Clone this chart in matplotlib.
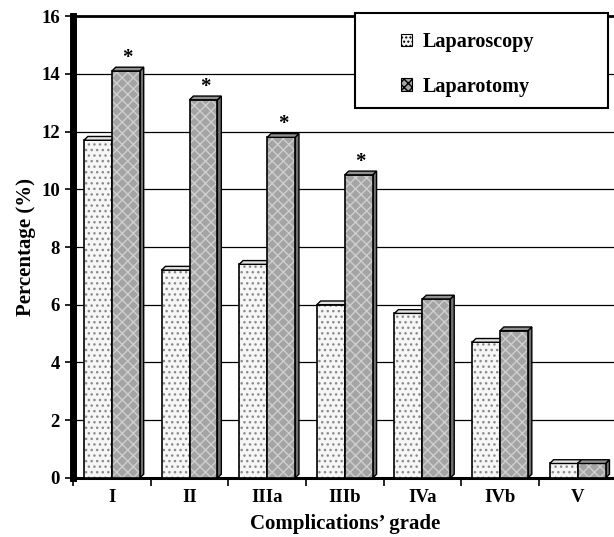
import numpy as np
import matplotlib.pyplot as plt
from matplotlib.patches import Polygon, Patch, Rectangle

# -------------------------
# Data
# -------------------------
grades = ['I', 'II', 'IIIa', 'IIIb', 'IVa', 'IVb', 'V']
laparoscopy = [11.7, 7.2, 7.4, 6.0, 5.7, 4.7, 0.5]
laparotomy = [14.1, 13.1, 11.8, 10.5, 6.2, 5.1, 0.5]
significant = [True, True, True, True, False, False, False]

plt.rcParams['font.family'] = ['Liberation Serif', 'DejaVu Serif']
plt.rcParams['font.weight'] = 'bold'

fig = plt.figure(figsize=(6.14, 5.37), dpi=100)
ax = fig.add_axes([0.119, 0.110, 0.885, 0.860])

w = 0.36       # bar width in category units
dx = 0.05      # 3D depth offsets
dy = 0.13

styles = {
    'lap': dict(face='#f6f6f6', hatch='...', hcol='#8a8a8a', top='#e4e4e4', side='#c8c8c8'),
    'lapt': dict(face='#a4a4a4', hatch='xxx', hcol='#cfcfcf', top='#909090', side='#707070'),
}

def bar3d(x0, h, st, z):
    # hatched fill
    ax.bar(x0, h, w, align='edge', color=st['face'], hatch=st['hatch'],
           edgecolor=st['hcol'], linewidth=0, zorder=z)
    # outline
    ax.bar(x0, h, w, align='edge', fill=False, edgecolor='black', linewidth=1.2, zorder=z + 0.1)
    top = Polygon([[x0, h], [x0 + dx, h + dy], [x0 + w + dx, h + dy], [x0 + w, h]],
                  closed=True, facecolor=st['top'], edgecolor='black', linewidth=1.0, zorder=z + 0.1)
    side = Polygon([[x0 + w, 0], [x0 + w + dx, dy], [x0 + w + dx, h + dy], [x0 + w, h]],
                   closed=True, facecolor=st['side'], edgecolor='black', linewidth=1.0, zorder=z - 0.05)
    ax.add_patch(top)
    ax.add_patch(side)

centers = np.arange(len(grades)) + 0.5
for i, c in enumerate(centers):
    bar3d(c - w, laparoscopy[i], styles['lap'], 3)
    bar3d(c, laparotomy[i], styles['lapt'], 4)
    if significant[i]:
        ax.text(c + w / 2 + dx / 2, laparotomy[i] + 0.45, '*', ha='center', va='center',
                fontsize=15, fontweight='bold')

ax.set_xlim(0, len(grades))
ax.set_ylim(0, 16)
ax.set_yticks(np.arange(0, 17, 2))
ax.yaxis.grid(True, color='black', linewidth=0.9)
ax.set_axisbelow(True)

ax.set_xticks(np.arange(0, len(grades) + 1))
ax.set_xticklabels([])
ax.set_xticks(centers, minor=True)
ax.set_xticklabels(grades, minor=True)
ax.tick_params(axis='x', which='minor', length=0, labelsize=13.5, pad=8)
ax.tick_params(axis='x', which='major', length=6, width=1.2, direction='out')
ax.tick_params(axis='y', length=6, width=1.2, direction='out', labelsize=13.5)

ax.spines['left'].set_linewidth(5)
ax.spines['bottom'].set_linewidth(2.2)
ax.spines['top'].set_linewidth(2.0)
ax.spines['right'].set_visible(False)

ax.set_ylabel('Percentage (%)', fontsize=15, fontweight='bold', labelpad=4)
ax.set_xlabel('Complications\u2019 grade', fontsize=15, fontweight='bold', labelpad=6)

# legend box (wide frame as in the original)
ax.add_patch(Rectangle((0.519, 0.801), 0.466, 0.205, transform=ax.transAxes,
                       facecolor='white', edgecolor='black', linewidth=1.5,
                       clip_on=False, zorder=9))
handles = [Patch(facecolor=styles['lap']['face'], hatch='....', edgecolor='black', linewidth=0.8),
           Patch(facecolor=styles['lapt']['face'], hatch='xxxx', edgecolor='black', linewidth=0.8)]
leg = ax.legend(handles, ['Laparoscopy', 'Laparotomy'], loc='upper left',
                bbox_to_anchor=(0.588, 0.982), frameon=False,
                fontsize=14.5, handlelength=0.55, handleheight=0.55,
                labelspacing=1.2, handletextpad=0.55, borderaxespad=0)
leg.set_zorder(10)

fig.savefig('out.png', dpi=100)
